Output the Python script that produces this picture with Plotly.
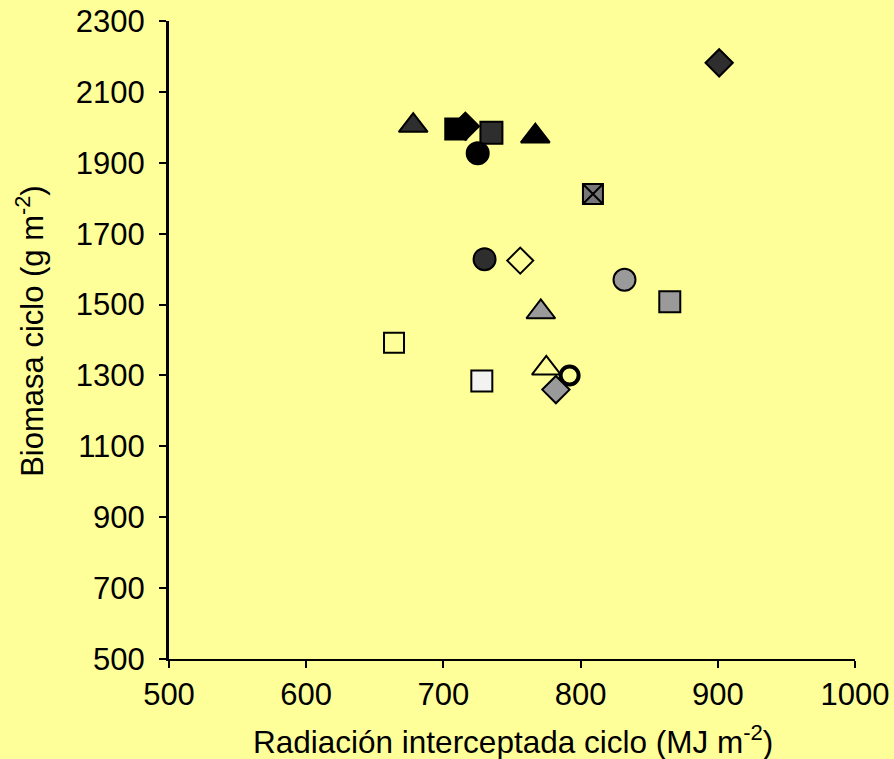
import plotly.graph_objects as go

# Data (radiation MJ m-2, biomass g m-2)
labels = ["T1", "T2", "T3", "T4", "T5", "T6", "T7", "T8", "T9",
          "T10", "T11", "T12", "T13", "T14", "T15", "T16", "T17", "T18"]
radiacion = [678, 709, 716, 735, 725, 767, 809, 901, 730,
             756, 832, 865, 771, 664, 728, 775, 792, 782]
biomasa = [2005, 1995, 2003, 1985, 1927, 1975, 1812, 2182, 1628,
           1624, 1570, 1508, 1479, 1392, 1284, 1320, 1300, 1260]
x_ticks = [500, 600, 700, 800, 900, 1000]
y_ticks = [500, 700, 900, 1100, 1300, 1500, 1700, 1900, 2100, 2300]

# marker styles (symbol, fill, line width)
styles = [
    ("triangle-up", "#2e2e2e", 2),
    ("square", "#000000", 2),
    ("diamond", "#000000", 2),
    ("square", "#2e2e2e", 2),
    ("circle", "#000000", 2),
    ("triangle-up", "#000000", 2),
    ("square-x", "#777777", 2),
    ("diamond", "#2e2e2e", 2),
    ("circle", "#2e2e2e", 2),
    ("diamond", "#FFFF99", 2),
    ("circle", "#9a9a9a", 2),
    ("square", "#9a9a9a", 2),
    ("triangle-up", "#9a9a9a", 2),
    ("square", "#FFFF99", 2),
    ("square", "#f2f2f2", 2),
    ("triangle-up", "#FFFF99", 2),
    ("circle", "#FFFF99", 4),
    ("diamond", "#9a9a9a", 2),
]
sizes = [25, 21, 21, 22, 22, 25, 20, 21, 22, 20, 22, 21, 25, 20, 21, 25, 18, 21]

fig = go.Figure()
for i in range(len(radiacion)):
    sym, fill, lw = styles[i]
    fig.add_trace(go.Scatter(
        x=[radiacion[i]], y=[biomasa[i]], mode="markers", name=labels[i],
        marker=dict(symbol=sym, size=sizes[i], color=fill,
                    line=dict(color="black", width=lw)),
        showlegend=False, hoverinfo="x+y"))

bg = "#FFFF99"
font = "Liberation Sans, Arial, sans-serif"
fig.update_layout(
    template="none",
    width=894, height=759,
    paper_bgcolor=bg, plot_bgcolor=bg,
    margin=dict(l=169, r=39, t=21, b=100),
    font=dict(family=font, color="black"),
    xaxis=dict(range=[500, 1000], tickvals=x_ticks, automargin=False,
               showgrid=False, zeroline=False, showline=True, linecolor="black",
               linewidth=2, ticks="outside", ticklen=7, tickwidth=2, tickcolor="black",
               tickfont=dict(size=31, family=font), fixedrange=True),
    yaxis=dict(range=[500, 2300], tickvals=y_ticks, automargin=False,
               showgrid=False, zeroline=False, showline=True, linecolor="black",
               linewidth=3, ticks="outside", ticklen=7, tickwidth=2, tickcolor="black",
               ticklabelstandoff=8,
               tickfont=dict(size=31, family=font), fixedrange=True),
    annotations=[
        dict(text="Biomasa ciclo (g m<sup>-2</sup>)", textangle=-90,
             xref="paper", yref="paper", x=-0.203, y=0.514,
             xanchor="center", yanchor="middle", showarrow=False,
             font=dict(size=31, family=font)),
        dict(text="Radiación interceptada ciclo (MJ m<sup>-2</sup>)",
             xref="paper", yref="paper", x=0.502, y=-0.127,
             xanchor="center", yanchor="middle", showarrow=False,
             font=dict(size=31.5, family=font)),
    ],
)
fig.write_html("out.html")
